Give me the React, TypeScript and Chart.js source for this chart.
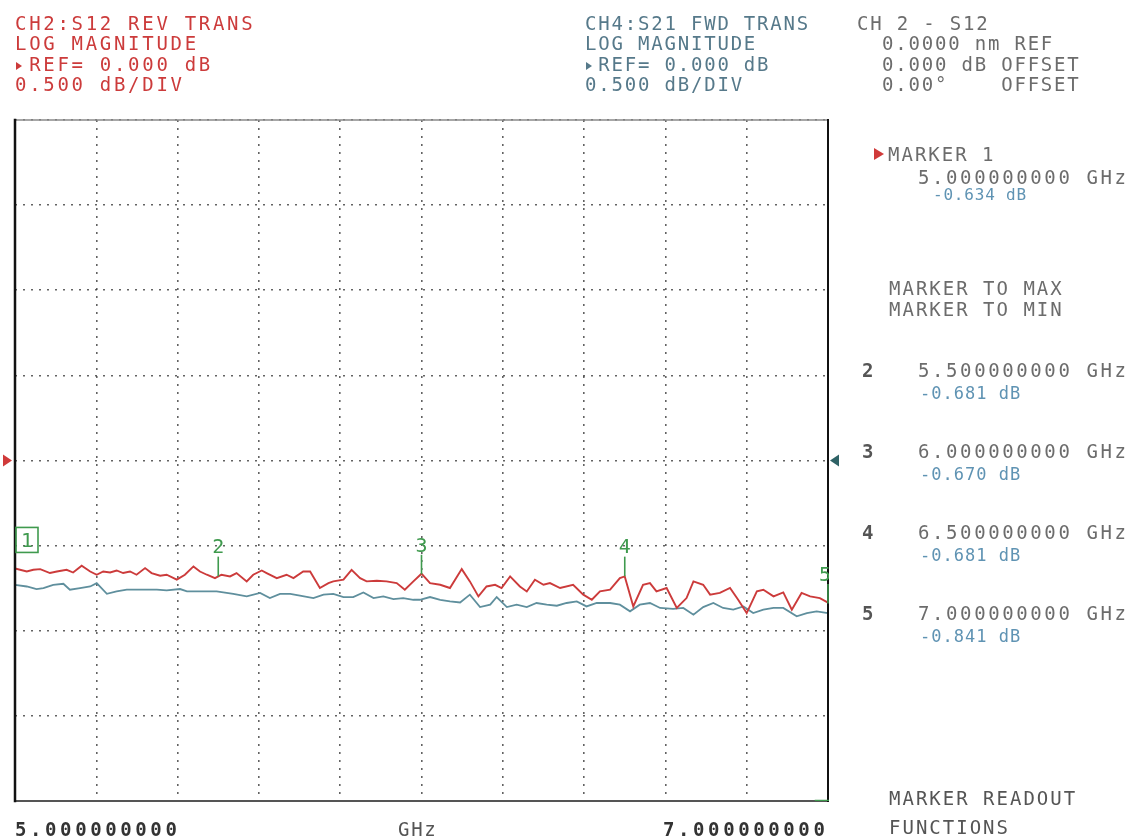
import React, { useEffect, useRef } from "react";
import { Chart, registerables } from "chart.js";

Chart.register(...registerables);

// ---- data (GHz, dB) ----
const s12Freq = [5.0, 5.029, 5.045, 5.062, 5.086, 5.103, 5.127, 5.143, 5.164, 5.185, 5.201, 5.217, 5.234, 5.25, 5.266, 5.283, 5.299, 5.32, 5.336, 5.357, 5.373, 5.398, 5.418, 5.439, 5.455, 5.472, 5.492, 5.5, 5.508, 5.529, 5.545, 5.57, 5.586, 5.607, 5.619, 5.644, 5.668, 5.685, 5.709, 5.726, 5.75, 5.771, 5.783, 5.808, 5.828, 5.849, 5.865, 5.89, 5.914, 5.939, 5.959, 5.98, 6.0, 6.021, 6.046, 6.07, 6.099, 6.119, 6.14, 6.16, 6.181, 6.197, 6.218, 6.242, 6.259, 6.279, 6.3, 6.316, 6.341, 6.373, 6.398, 6.419, 6.439, 6.464, 6.488, 6.5, 6.521, 6.545, 6.562, 6.578, 6.603, 6.628, 6.652, 6.669, 6.693, 6.71, 6.734, 6.759, 6.779, 6.8, 6.825, 6.841, 6.866, 6.89, 6.911, 6.935, 6.956, 6.98, 7.0];
const s12Db = [-0.634, -0.652, -0.642, -0.638, -0.661, -0.652, -0.642, -0.658, -0.618, -0.652, -0.671, -0.652, -0.658, -0.646, -0.661, -0.652, -0.671, -0.632, -0.661, -0.677, -0.671, -0.7, -0.671, -0.622, -0.652, -0.671, -0.691, -0.681, -0.671, -0.681, -0.661, -0.71, -0.671, -0.646, -0.661, -0.691, -0.671, -0.691, -0.652, -0.652, -0.749, -0.72, -0.71, -0.7, -0.642, -0.691, -0.71, -0.706, -0.71, -0.72, -0.759, -0.71, -0.665, -0.72, -0.73, -0.749, -0.638, -0.71, -0.798, -0.74, -0.73, -0.749, -0.681, -0.74, -0.769, -0.7, -0.73, -0.72, -0.749, -0.73, -0.788, -0.818, -0.769, -0.759, -0.691, -0.681, -0.857, -0.73, -0.72, -0.769, -0.749, -0.866, -0.808, -0.71, -0.73, -0.788, -0.778, -0.749, -0.818, -0.896, -0.769, -0.759, -0.798, -0.775, -0.876, -0.778, -0.798, -0.808, -0.835];

const s21Freq = [5.0, 5.029, 5.053, 5.07, 5.094, 5.119, 5.135, 5.16, 5.185, 5.201, 5.226, 5.25, 5.275, 5.349, 5.373, 5.406, 5.423, 5.496, 5.537, 5.57, 5.603, 5.627, 5.652, 5.677, 5.701, 5.734, 5.759, 5.783, 5.808, 5.832, 5.857, 5.882, 5.906, 5.931, 5.955, 5.98, 5.996, 6.021, 6.046, 6.07, 6.095, 6.119, 6.144, 6.169, 6.185, 6.21, 6.234, 6.259, 6.283, 6.308, 6.333, 6.357, 6.382, 6.406, 6.431, 6.464, 6.488, 6.513, 6.537, 6.562, 6.587, 6.619, 6.644, 6.669, 6.693, 6.718, 6.742, 6.767, 6.792, 6.816, 6.841, 6.866, 6.89, 6.923, 6.948, 6.972, 7.0];
const s21Db = [-0.73, -0.74, -0.755, -0.749, -0.73, -0.724, -0.759, -0.749, -0.74, -0.72, -0.783, -0.769, -0.759, -0.759, -0.763, -0.755, -0.769, -0.769, -0.783, -0.798, -0.778, -0.808, -0.783, -0.783, -0.794, -0.808, -0.788, -0.783, -0.802, -0.802, -0.775, -0.808, -0.798, -0.814, -0.808, -0.818, -0.818, -0.802, -0.818, -0.828, -0.834, -0.788, -0.861, -0.847, -0.802, -0.861, -0.847, -0.861, -0.837, -0.847, -0.853, -0.837, -0.828, -0.857, -0.837, -0.837, -0.847, -0.886, -0.847, -0.837, -0.866, -0.872, -0.866, -0.906, -0.861, -0.837, -0.866, -0.876, -0.857, -0.896, -0.876, -0.866, -0.866, -0.915, -0.896, -0.886, -0.896];

const markerLabels = ["1", "2", "3", "4", "5"];
const markerFreq = [5.0, 5.5, 6.0, 6.5, 7.0];
const markerDb = [-0.634, -0.681, -0.67, -0.681, -0.841];
const markerFreqText = ["5.000000000 GHz", "5.500000000 GHz", "6.000000000 GHz", "6.500000000 GHz", "7.000000000 GHz"];
const markerDbText = ["-0.634 dB", "-0.681 dB", "-0.670 dB", "-0.681 dB", "-0.841 dB"];

const xMin = 5.0;
const xMax = 7.0;
const xStep = 0.2;
const yMin = -2;
const yMax = 2;
const yStep = 0.5;
const refLevel = 0;

const xStartLabel = "5.000000000";
const xUnitLabel = "GHz";
const xStopLabel = "7.000000000";

const ch2Header = ["CH2:S12 REV TRANS", "LOG MAGNITUDE", "REF= 0.000 dB", "0.500 dB/DIV"];
const ch4Header = ["CH4:S21 FWD TRANS", "LOG MAGNITUDE", "REF= 0.000 dB", "0.500 dB/DIV"];
const infoHeader = ["CH 2 - S12", "0.0000 nm REF", "0.000 dB OFFSET", "0.00°    OFFSET"];

const RED = "#cc3b3b";
const BLUE = "#5f8f9d";
const GREEN = "#3f9a4e";
const FONT = "'DejaVu Sans Mono', monospace";

const overlayPlugin = {
  id: "vnaOverlay",
  afterDatasetsDraw(chart: any) {
    const { ctx, chartArea, scales } = chart;
    const { left, top, right, bottom } = chartArea;
    const xs = scales.x;
    const ys = scales.y;
    ctx.save();
    // frame
    ctx.lineCap = "square";
    ctx.strokeStyle = "#8a8a8a";
    ctx.lineWidth = 1.5;
    ctx.beginPath();
    ctx.moveTo(left, top);
    ctx.lineTo(right, top);
    ctx.stroke();
    ctx.strokeStyle = "#555";
    ctx.lineWidth = 2;
    ctx.beginPath();
    ctx.moveTo(left, bottom);
    ctx.lineTo(right, bottom);
    ctx.stroke();
    ctx.strokeStyle = "#111";
    ctx.lineWidth = 2.5;
    ctx.beginPath();
    ctx.moveTo(left, top);
    ctx.lineTo(left, bottom);
    ctx.stroke();
    ctx.lineWidth = 2;
    ctx.beginPath();
    ctx.moveTo(right, top);
    ctx.lineTo(right, bottom);
    ctx.stroke();

    // reference arrows
    const ry = ys.getPixelForValue(refLevel);
    ctx.fillStyle = "#d03a3a";
    ctx.beginPath();
    ctx.moveTo(left - 12, ry - 6);
    ctx.lineTo(left - 3, ry);
    ctx.lineTo(left - 12, ry + 6);
    ctx.closePath();
    ctx.fill();
    ctx.fillStyle = "#2f6266";
    ctx.beginPath();
    ctx.moveTo(right + 11, ry - 6);
    ctx.lineTo(right + 2, ry);
    ctx.lineTo(right + 11, ry + 6);
    ctx.closePath();
    ctx.fill();

    // markers
    ctx.beginPath();
    ctx.rect(left, top, right - left + 1, bottom - top);
    ctx.clip();
    ctx.strokeStyle = GREEN;
    ctx.fillStyle = GREEN;
    ctx.lineWidth = 1.6;
    ctx.font = `20px ${FONT}`;
    ctx.textAlign = "center";
    ctx.textBaseline = "alphabetic";
    markerFreq.forEach((f, i) => {
      const px = xs.getPixelForValue(f);
      const py = ys.getPixelForValue(markerDb[i]);
      if (i === 0) {
        ctx.strokeRect(px + 1, py - 41, 22, 25);
        ctx.fillText(markerLabels[i], px + 12, py - 21);
      } else {
        ctx.beginPath();
        ctx.moveTo(px, py - 19);
        ctx.lineTo(px, py - 1);
        ctx.stroke();
        ctx.fillText(markerLabels[i], i === 4 ? px - 3 : px, py - 23);
      }
    });
    ctx.lineWidth = 2.5;
    ctx.beginPath();
    ctx.moveTo(right - 12, bottom);
    ctx.lineTo(right, bottom);
    ctx.stroke();
    ctx.restore();
  },
};

type TextItem = { t: string; x: number; b: number; c: string; s?: number; ls?: number; w?: number };

function Txt({ t, x, b, c, s = 19, ls = 2.2, w = 400 }: TextItem) {
  return (
    <div
      style={{
        position: "absolute",
        left: x,
        top: b - 0.846 * s,
        fontFamily: FONT,
        fontSize: s,
        lineHeight: `${s}px`,
        letterSpacing: ls,
        color: c,
        whiteSpace: "pre",
        fontWeight: w,
      }}
    >
      {t}
    </div>
  );
}

export default function App() {
  const canvasRef = useRef<HTMLCanvasElement | null>(null);

  useEffect(() => {
    if (!canvasRef.current) return;
    const gridColor = "rgba(60,60,60,0.8)";
    const chart = new Chart(canvasRef.current, {
      type: "line",
      data: {
        datasets: [
          {
            label: "CH2 S12",
            data: s12Freq.map((f, i) => ({ x: f, y: s12Db[i] })),
            borderColor: RED,
            borderWidth: 1.9,
            pointRadius: 0,
            tension: 0,
            fill: false,
          },
          {
            label: "CH4 S21",
            data: s21Freq.map((f, i) => ({ x: f, y: s21Db[i] })),
            borderColor: BLUE,
            borderWidth: 1.8,
            pointRadius: 0,
            tension: 0,
            fill: false,
          },
        ],
      },
      options: {
        animation: false,
        responsive: false,
        maintainAspectRatio: false,
        layout: { padding: { left: 15, top: 120, right: 311, bottom: 38 } },
        plugins: { legend: { display: false }, tooltip: { enabled: false } },
        scales: {
          x: {
            type: "linear",
            min: xMin,
            max: xMax,
            ticks: { display: false, stepSize: xStep },
            grid: { color: gridColor, lineWidth: 1.6, drawTicks: false },
            border: { display: false, dash: [2, 6] },
          },
          y: {
            type: "linear",
            min: yMin,
            max: yMax,
            ticks: { display: false, stepSize: yStep },
            grid: { color: gridColor, lineWidth: 1.6, drawTicks: false },
            border: { display: false, dash: [2, 6] },
          },
        },
      },
      plugins: [overlayPlugin],
    });
    return () => chart.destroy();
  }, []);

  const grey = "#6c6c6c";
  const valBlue = "#5f93b3";
  const items: TextItem[] = [];
  const hb = [30, 50, 71, 91];
  ch2Header.forEach((t, i) => items.push({ t: i === 2 ? " " + t : t, x: 15, b: hb[i], c: RED, ls: 2.7 }));
  ch4Header.forEach((t, i) => items.push({ t: i === 2 ? " " + t : t, x: 585, b: hb[i], c: "#56798a", ls: 1.8 }));
  infoHeader.forEach((t, i) => items.push({ t, x: i === 0 ? 857 : 882, b: hb[i], c: grey, ls: 1.8 }));
  items.push({ t: "MARKER 1", x: 888, b: 161, c: grey, ls: 2 });
  items.push({ t: markerFreqText[0], x: 918, b: 184, c: grey, ls: 2.6 });
  items.push({ t: markerDbText[0], x: 933, b: 201, c: valBlue, s: 16, ls: 0.8 });
  items.push({ t: "MARKER TO MAX", x: 889, b: 295, c: grey, ls: 2 });
  items.push({ t: "MARKER TO MIN", x: 889, b: 316, c: grey, ls: 2 });
  const rowB = [377, 458, 539, 620];
  for (let k = 1; k < 5; k++) {
    const b = rowB[k - 1];
    items.push({ t: markerLabels[k], x: 862, b, c: "#555", w: 700, ls: 0 });
    items.push({ t: markerFreqText[k], x: 918, b, c: grey, ls: 2.6 });
    items.push({ t: markerDbText[k], x: 920, b: b + 22, c: valBlue, s: 17, ls: 1 });
  }
  items.push({ t: "MARKER READOUT", x: 889, b: 805, c: "#555", ls: 2 });
  items.push({ t: "FUNCTIONS", x: 889, b: 834, c: "#555", ls: 2 });
  items.push({ t: xStartLabel, x: 15, b: 836, c: "#333", ls: 3.6, w: 700 });
  items.push({ t: xUnitLabel, x: 398, b: 836, c: "#555", ls: 1.7 });
  items.push({ t: xStopLabel, x: 663, b: 836, c: "#333", ls: 3.6, w: 700 });

  return (
    <div style={{ position: "absolute", left: 0, top: 0, width: 1139, height: 839, background: "#fff", overflow: "hidden" }}>
      <canvas ref={canvasRef} width={1139} height={839} style={{ position: "absolute", left: 0, top: 0, width: 1139, height: 839 }} />
      {items.map((it, i) => (
        <Txt key={i} {...it} />
      ))}
      {/* small header pointer triangles */}
      <div style={{ position: "absolute", left: 16, top: 62, width: 0, height: 0, borderTop: "4px solid transparent", borderBottom: "4px solid transparent", borderLeft: `6px solid ${RED}` }} />
      <div style={{ position: "absolute", left: 586, top: 62, width: 0, height: 0, borderTop: "4px solid transparent", borderBottom: "4px solid transparent", borderLeft: "6px solid #56798a" }} />
      <div style={{ position: "absolute", left: 874, top: 148, width: 0, height: 0, borderTop: "6px solid transparent", borderBottom: "6px solid transparent", borderLeft: "10px solid #d03a3a" }} />
    </div>
  );
}
